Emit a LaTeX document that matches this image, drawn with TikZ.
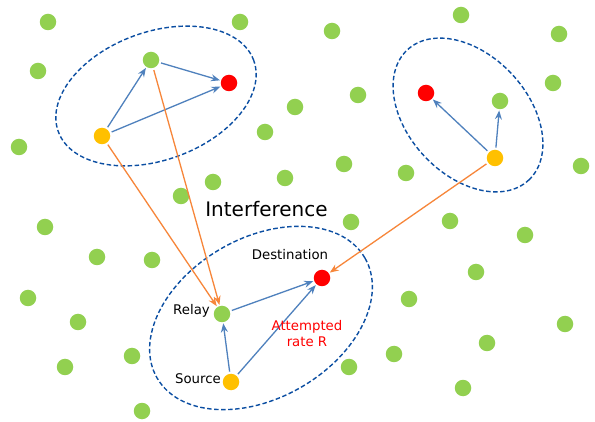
\documentclass[tikz,border=0pt]{standalone}
\usepackage{fontspec}
\setmainfont{DejaVu Sans}
\usetikzlibrary{arrows.meta}
\definecolor{dotgreen}{HTML}{92D050}
\definecolor{dotred}{HTML}{FF0000}
\definecolor{dotyellow}{HTML}{FFC000}
\definecolor{arrblue}{HTML}{4F81BD}
\definecolor{arrorange}{HTML}{F7863A}
\definecolor{ellblue}{HTML}{0B4EA2}
\begin{document}
\begin{tikzpicture}[x=1pt,y=-1pt,
  dot/.style={circle,inner sep=0pt,minimum size=16.5pt},
  gdot/.style={dot,fill=dotgreen},
  rdot/.style={dot,fill=dotred},
  ydot/.style={dot,fill=dotyellow},
  barrow/.style={draw=arrblue,line width=1.3pt,-{Stealth[length=9pt,width=7pt,inset=3pt]},shorten <=2pt,shorten >=1pt},
  oarrow/.style={draw=arrorange,line width=1.3pt,-{Stealth[length=9pt,width=7pt,inset=3pt]},shorten <=2pt,shorten >=1pt},
  zone/.style={draw=ellblue,line width=1.4pt,dash pattern=on 4.5pt off 2.5pt},
  lbl/.style={font=\fontsize{13.3}{16}\selectfont,inner sep=0pt,anchor=base},
  big/.style={font=\fontsize{20}{24}\selectfont,inner sep=0pt,anchor=base}
]
\useasboundingbox (0,0) rectangle (595,422);
\fill[white] (0,0) rectangle (595,422);

% background nodes
\foreach \px/\py [count=\i] in {48/22,240/22,332/31,461/15,559/34,38/71,553/83,358/95,295/107,265/132,
  19/147,581/166,344/164,406/173,285/178,213/182,181/196,45/227,351/222,450/221,525/235,97/257,152/260,
  476/272,28/298,409/299,78/322,565/324,487/343,132/356,394/354,65/367,349/367,463/388,142/411}
  \node[gdot] (g\i) at (\px,\py) {};

% zones
\draw[zone,rotate around={20:(156,96)}] (156,96) ellipse [x radius=104pt, y radius=64pt];
\draw[zone,rotate around={-47:(468,115)}] (468,115) ellipse [x radius=89pt, y radius=60pt];
\draw[zone,rotate around={30:(261,318)}] (261,318) ellipse [x radius=120pt, y radius=80pt];

% cluster 1
\node[gdot] (r1) at (151,60) {};
\node[rdot] (d1) at (229,83) {};
\node[ydot] (s1) at (102,136) {};
% cluster 2
\node[rdot] (d2) at (426,93) {};
\node[gdot] (r2) at (500,101) {};
\node[ydot] (s2) at (495,158) {};
% main cluster
\node[gdot] (relay) at (222,314) {};
\node[rdot] (dest) at (322,278) {};
\node[ydot] (src) at (231,382) {};

% links
\draw[barrow] (s1) -- (r1);
\draw[barrow] (r1) -- (d1);
\draw[barrow] (s1) -- (d1);
\draw[barrow] (s2) -- (d2);
\draw[barrow] (s2) -- (r2);
\draw[barrow] (relay) -- (dest);
\draw[barrow] (src) -- (relay);
\draw[barrow] (src) -- (dest);

\draw[oarrow] (s1) -- (relay);
\draw[oarrow] (r1) -- (relay);
\draw[oarrow] (s2) -- (dest);

% labels
\node[big] (tint) at (266.5,217) {Interference};
\node[lbl] (tdest) at (290,260) {Destination};
\node[lbl] (trelay) at (191.5,315) {Relay};
\node[lbl] (tsrc) at (198,383) {Source};
\node[lbl,text=dotred,align=center] (tatt) at (307,347) {Attempted\\rate R};
\end{tikzpicture}
\end{document}
